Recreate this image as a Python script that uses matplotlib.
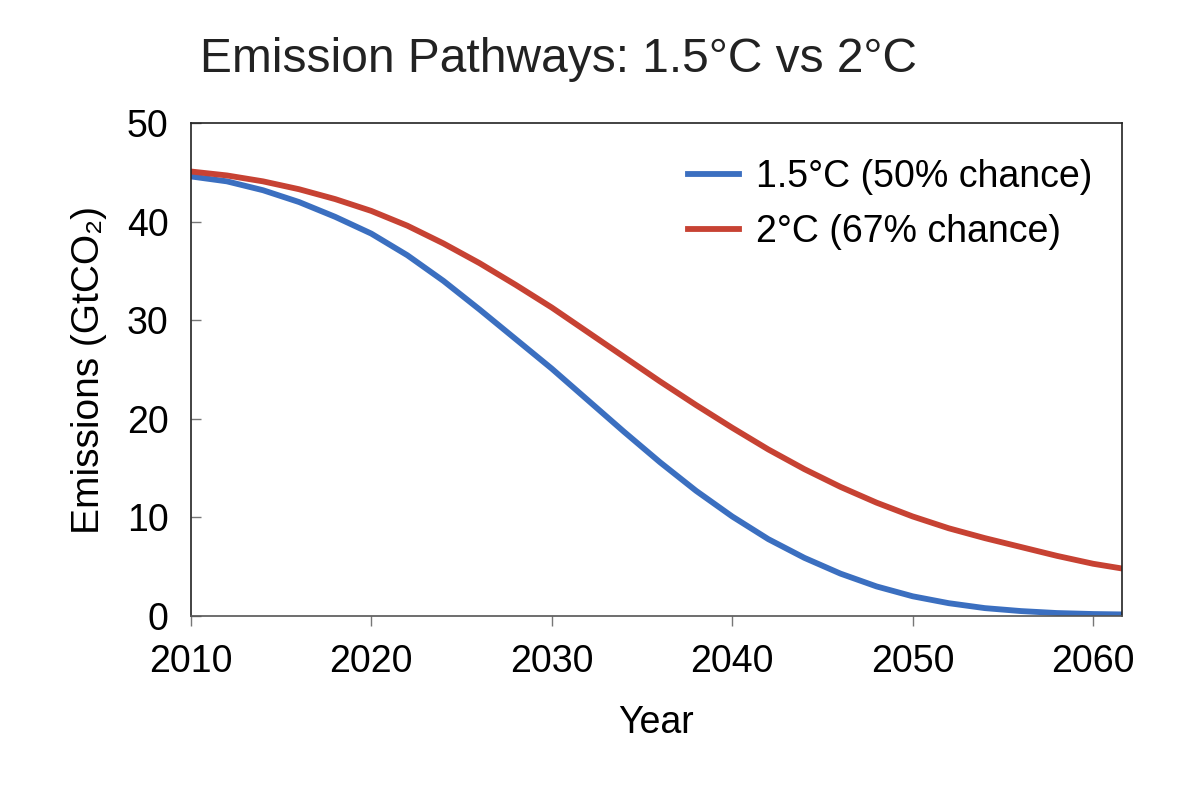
import matplotlib
matplotlib.use("Agg")
import matplotlib.pyplot as plt

plt.rcParams['font.family'] = ['Liberation Sans', 'DejaVu Sans']

# Emission pathways (GtCO2 per year)
years = [2010, 2012, 2014, 2016, 2018, 2020, 2022, 2024, 2026, 2028,
         2030, 2032, 2034, 2036, 2038, 2040, 2042, 2044, 2046, 2048,
         2050, 2052, 2054, 2056, 2058, 2060, 2062]
path_15 = [44.6, 44.1, 43.2, 42.0, 40.5, 38.8, 36.6, 34.0, 31.1, 28.1,
           25.1, 21.9, 18.7, 15.6, 12.7, 10.1, 7.8, 5.9, 4.3, 3.0,
           2.0, 1.3, 0.8, 0.5, 0.3, 0.2, 0.15]
path_20 = [45.1, 44.7, 44.1, 43.3, 42.3, 41.1, 39.6, 37.8, 35.8, 33.6,
           31.3, 28.8, 26.3, 23.8, 21.4, 19.1, 16.9, 14.9, 13.1, 11.5,
           10.1, 8.9, 7.9, 7.0, 6.1, 5.3, 4.7]
labels = ["1.5°C (50% chance)", "2°C (67% chance)"]
colors = ["#3b6fc0", "#c74233"]
xticks = [2010, 2020, 2030, 2040, 2050, 2060]
yticks = [0, 10, 20, 30, 40, 50]

fig = plt.figure(figsize=(12, 8), dpi=100)
ax = fig.add_axes([0.159, 0.23, 0.776, 0.616])

ax.plot(years, path_15, color=colors[0], lw=4.2, label=labels[0])
ax.plot(years, path_20, color=colors[1], lw=4.2, label=labels[1])

ax.set_xlim(2010, 2061.6)
ax.set_ylim(0, 50)
ax.set_xticks(xticks)
ax.set_yticks(yticks)

ax.tick_params(axis='x', direction='out', length=7, width=1, color='#777777',
               labelsize=27, pad=13)
ax.tick_params(axis='y', direction='in', length=7, width=1, color='#777777',
               labelsize=27, pad=16)
for s in ax.spines.values():
    s.set_linewidth(1.2)
    s.set_color('#222222')
ax.spines['bottom'].set_color('#555555')

ax.set_xlabel("Year", fontsize=27, labelpad=18)
ax.set_ylabel("Emissions (GtCO₂)", fontsize=28, labelpad=14)

fig.text(0.465, 0.926, "Emission Pathways: 1.5°C vs 2°C", fontsize=34.5,
         ha='center', va='center', color='#222222')

ax.legend(loc='upper right', frameon=False, fontsize=27, handlelength=1.35,
          handletextpad=0.45, labelspacing=0.5, borderaxespad=0.3,
          bbox_to_anchor=(0.996, 0.98))

fig.savefig("out.png", dpi=100)
